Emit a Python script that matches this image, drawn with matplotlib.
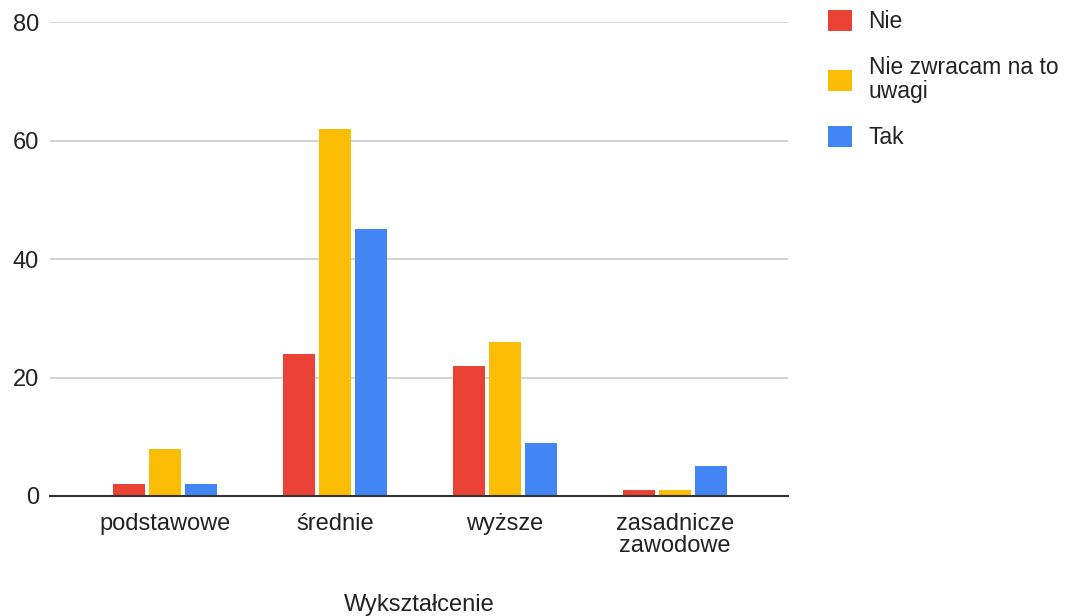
import matplotlib
matplotlib.use("Agg")
import matplotlib.pyplot as plt
import numpy as np
from matplotlib.patches import Patch

plt.rcParams['font.family'] = ['Liberation Sans', 'DejaVu Sans']

categories = ["podstawowe", "średnie", "wyższe", "zasadnicze\nzawodowe"]
series_names = ["Nie", "Nie zwracam na to\nuwagi", "Tak"]
nie = [2, 24, 22, 1]
nie_zwracam = [8, 62, 26, 1]
tak = [2, 45, 9, 5]
colors = ["#EA4335", "#FBBC04", "#4285F4"]
y_ticks = [0, 20, 40, 60, 80]

FS = 17
LFS = 16.5
fig = plt.figure(figsize=(10.74, 6.16), dpi=100)
ax = fig.add_axes([50/1074, 1-496/616, 738/1074, 474/616])

x = np.arange(len(categories))
w = 32/170
off = 36/170
for i, (vals, c, name) in enumerate(zip([nie, nie_zwracam, tak], colors, series_names)):
    ax.bar(x + (i-1)*off, vals, width=w, color=c, label=name, zorder=3)

ax.set_xlim(-115/170, 3 + 113/170)
ax.set_ylim(0, 80)
ax.set_yticks(y_ticks)
ax.set_xticks(x)
ax.set_xticklabels(categories, fontsize=FS, color="#222222", linespacing=1.0)
ax.tick_params(axis='both', length=0, labelsize=FS, colors="#222222")
ax.tick_params(axis='y', pad=8)
ax.tick_params(axis='x', pad=12)
ax.grid(axis='y', color="#cccccc", linewidth=1.2, zorder=0)
for s in ['top', 'right', 'left']:
    ax.spines[s].set_visible(False)
ax.spines['bottom'].set_color("#333333")
ax.spines['bottom'].set_linewidth(1.5)
ax.spines['bottom'].set_zorder(4)

fig.text(419/1074, 1-605/616, "Wykształcenie", ha='center', va='center', fontsize=FS, color="#222222")

handles = [Patch(facecolor=c, edgecolor='none') for c in colors]
leg = fig.legend(handles, series_names, loc='upper left',
                 bbox_to_anchor=(828/1074, 1-10/616), frameon=False,
                 borderpad=0, borderaxespad=0,
                 fontsize=LFS, handlelength=1.05, handleheight=1.05,
                 handletextpad=0.72, labelspacing=1.0)
for t in leg.get_texts():
    t.set_color("#222222")
    t.set_linespacing(1.03)

fig.savefig("out.png", dpi=100)
